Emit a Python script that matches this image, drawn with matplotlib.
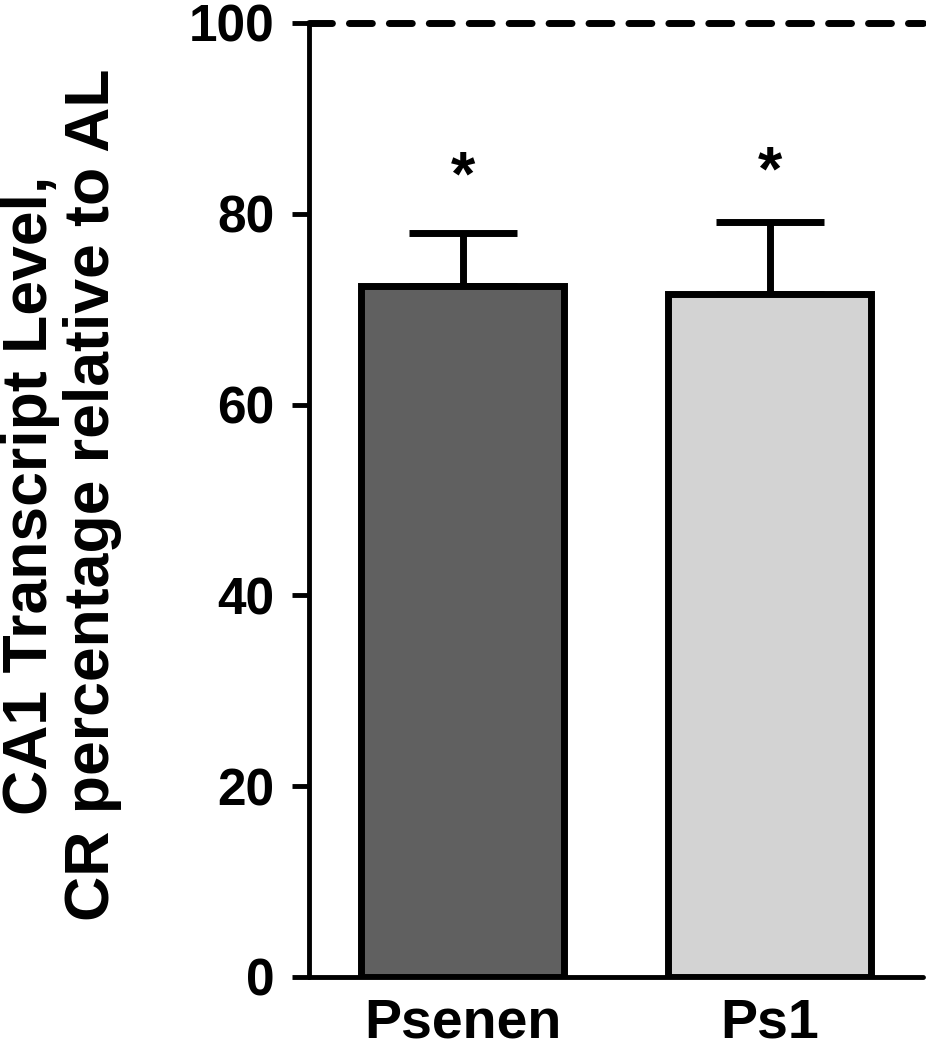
import matplotlib
matplotlib.use("Agg")
import matplotlib.pyplot as plt
import numpy as np

categories = ["Psenen", "Ps1"]
values = [72.4, 71.6]
errors = [5.6, 7.5]
star_y = [82.0, 82.5]
yticks = [0, 20, 40, 60, 80, 100]
ref_level = 100
fill_colors = ["#606060", "#d3d3d3"]

plt.rcParams['font.family'] = ['Liberation Sans', 'DejaVu Sans']
plt.rcParams['font.weight'] = 'bold'

fig = plt.figure(figsize=(9.26, 10.5), dpi=100)
ax = fig.add_axes([309/926, 1-977/1050, (923-309)/926, (977-23)/1050])

x = np.arange(len(categories))
ax.bar(x, values, width=0.663, color=fill_colors, edgecolor='black', linewidth=5, zorder=3)
ax.errorbar(x, values, yerr=[np.zeros(len(errors)), errors], fmt='none', ecolor='black',
            elinewidth=5, capsize=39, capthick=5, zorder=2)
for xi, sy in zip(x, star_y):
    ax.text(xi, sy, "*", ha='center', va='baseline', fontsize=45, fontweight='bold')

ax.axhline(ref_level, color='black', linewidth=5, linestyle=(0, (3.3, 2.45)),
           dash_capstyle='round', clip_on=False, zorder=4)

ax.set_xlim(-0.5, 1.5)
ax.set_ylim(0, 100)
ax.set_yticks(yticks)
ax.set_yticklabels([str(t) for t in yticks], fontsize=37, fontweight='bold')
ax.set_xticks(x)
ax.set_xticklabels(categories, fontsize=40, fontweight='bold')
ax.tick_params(axis='y', length=12, width=3.5, direction='out', pad=13)
ax.tick_params(axis='x', length=0, pad=15)
for s in ['top', 'right']:
    ax.spines[s].set_visible(False)
for s in ['left', 'bottom']:
    ax.spines[s].set_linewidth(3.5)
    ax.spines[s].set_capstyle('round')

ax.set_ylabel("CA1 Transcript Level,\nCR percentage relative to AL", fontsize=45,
              fontweight='bold', linespacing=1.05)
ax.yaxis.set_label_coords(-0.305, 0.505)

fig.savefig("out.png", dpi=100)
